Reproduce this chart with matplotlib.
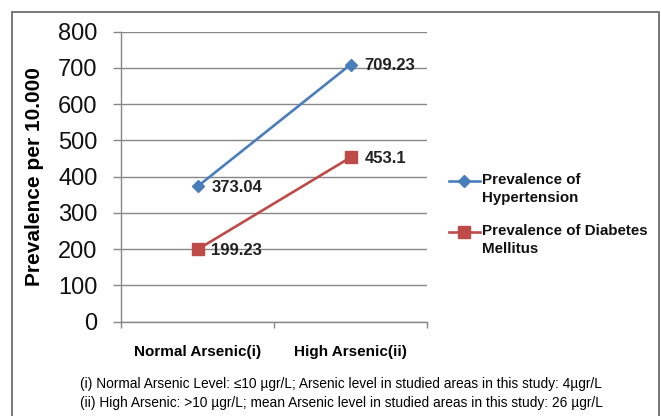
import matplotlib
matplotlib.use("Agg")
import matplotlib.pyplot as plt
from matplotlib.lines import Line2D
from matplotlib.patches import Rectangle

categories = ["Normal Arsenic(i)", "High Arsenic(ii)"]
hypertension = [373.04, 709.23]
diabetes = [199.23, 453.1]
series_names = ["Prevalence of\nHypertension", "Prevalence of Diabetes\nMellitus"]
yticks = [0, 100, 200, 300, 400, 500, 600, 700, 800]
footnotes = ["(i) Normal Arsenic Level: \u226410 \u00b5gr/L; Arsenic level in studied areas in this study: 4\u00b5gr/L",
             "(ii) High Arsenic: >10 \u00b5gr/L; mean Arsenic level in studied areas in this study: 26 \u00b5gr/L"]

plt.rcParams['font.family'] = ['Liberation Sans', 'DejaVu Sans']

BLUE = '#4A7EBB'
RED = '#BE4B48'
GRID = '#878787'
W, H = 661, 416

fig = plt.figure(figsize=(W / 100, H / 100), dpi=100)
ax = fig.add_axes([121 / W, 1 - 321.7 / H, (427 - 121) / W, (321.7 - 31.7) / H])

x = list(range(len(categories)))
ax.plot(x, hypertension, color=BLUE, lw=1.9, marker='D', ms=6.5, zorder=3)
ax.plot(x, diabetes, color=RED, lw=1.9, marker='s', ms=8, zorder=3)

for xi, v in zip(x, hypertension):
    ax.annotate(f"{v:g}", (xi, v), xytext=(10, -1), textcoords='offset points',
                ha='left', va='center', fontsize=12, fontweight='bold', color='#222222')
for xi, v in zip(x, diabetes):
    ax.annotate(f"{v:g}", (xi, v), xytext=(10, -1), textcoords='offset points',
                ha='left', va='center', fontsize=12, fontweight='bold', color='#222222')

ax.set_xlim(-0.5, len(categories) - 0.5)
ax.set_ylim(0, 800)
ax.set_yticks(yticks)
ax.tick_params(axis='y', length=6, width=1, color=GRID, pad=11, labelsize=17, labelcolor='#111111')
ax.yaxis.grid(True, color=GRID, lw=1)
ax.set_axisbelow(True)

ax.set_xticks([i - 0.5 for i in range(len(categories) + 1)])
ax.set_xticklabels([])
ax.tick_params(axis='x', which='major', length=4, width=1, color=GRID)
ax.set_xticks(x, minor=True)
ax.set_xticklabels(categories, minor=True, fontsize=11, fontweight='bold')
ax.tick_params(axis='x', which='minor', length=0, pad=17)

for s in ['top', 'right']:
    ax.spines[s].set_visible(False)
for s in ['left', 'bottom']:
    ax.spines[s].set_color(GRID)
    ax.spines[s].set_linewidth(1)

ax.set_ylabel("Prevalence per 10.000", fontsize=15, fontweight='bold', labelpad=10)

# legend drawn by hand so the handle sits on the first text line
legend_rows = [(BLUE, 'D', 6.5, series_names[0], 181), (RED, 's', 8, series_names[1], 232)]
for color, mk, ms, label, yp in legend_rows:
    fy = 1 - yp / H
    fig.add_artist(Line2D([449 / W, 480 / W], [fy, fy], color=color, lw=1.9, transform=fig.transFigure))
    fig.add_artist(Line2D([464 / W], [fy], color=color, marker=mk, ms=ms, transform=fig.transFigure))
    fig.text(482 / W, fy + 8 / H, label, ha='left', va='top', fontsize=10.9, fontweight='bold',
             linespacing=1.4, color='#111111')

fig.text(341 / W, 1 - 384 / H, footnotes[0], ha='center', va='center', fontsize=9.9)
fig.text(341 / W, 1 - 403 / H, footnotes[1], ha='center', va='center', fontsize=9.9)

fig.add_artist(Rectangle((12 / W, -0.1), (659 - 12) / W, 1.1 - 12 / H, fill=False,
                         edgecolor='#6e6e6e', lw=1.3, transform=fig.transFigure))

fig.savefig("out.png", dpi=100)
